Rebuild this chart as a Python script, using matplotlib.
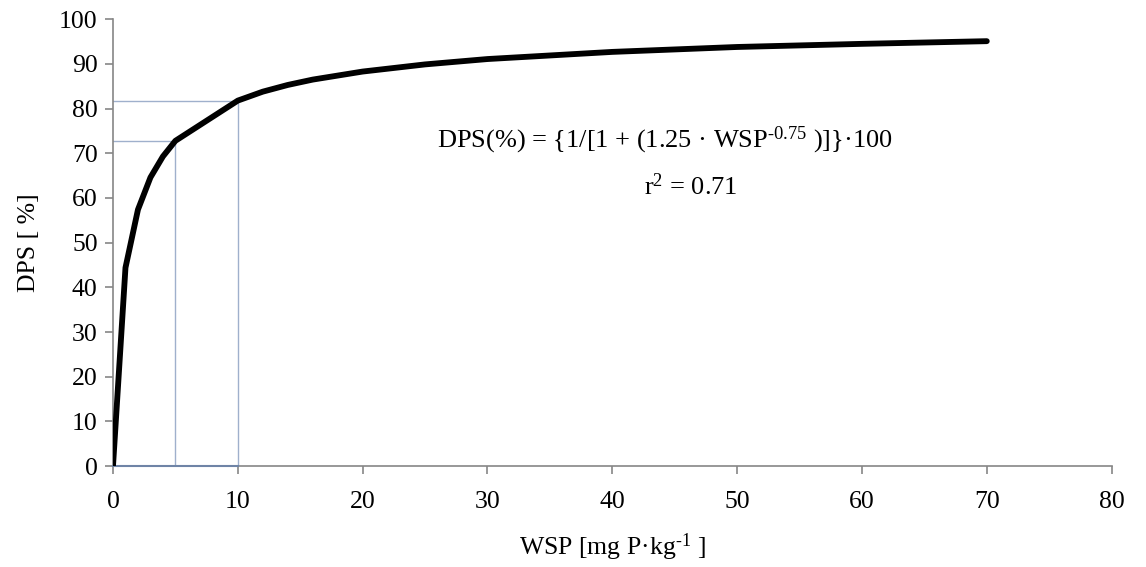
import matplotlib.pyplot as plt

plt.rcParams['font.family'] = ['Liberation Serif', 'DejaVu Serif']
plt.rcParams['mathtext.fontset'] = 'custom'
plt.rcParams['mathtext.rm'] = 'Liberation Serif'
plt.rcParams['mathtext.it'] = 'Liberation Serif:italic'

# values
wsp = [0, 1, 2, 3, 4, 5, 10, 12, 14, 16, 20, 25, 30, 40, 50, 60, 70]
dps = [0, 44.4, 57.4, 64.6, 69.3, 72.8, 81.8, 83.8, 85.3, 86.5,
       88.3, 89.9, 91.1, 92.7, 93.8, 94.5, 95.1]

# guide points marked on the chart
guide_x = [5, 10]
guide_y = [72.8, 81.8]

fig = plt.figure(figsize=(11.46, 5.67), dpi=100)
ax = fig.add_axes([0.0986, 0.178, 0.8714, 0.788])

guide_col = '#9fb0cc'
for gx, gy in zip(guide_x, guide_y):
    ax.plot([gx, gx], [0, gy], color=guide_col, lw=1.0, zorder=2)
    ax.plot([0, gx], [gy, gy], color=guide_col, lw=1.0, zorder=2)
ax.plot([0, max(guide_x)], [0, 0], color='#6f84a6', lw=1.5, zorder=3, clip_on=False)

ax.plot(wsp, dps, color='black', lw=4.2, solid_capstyle='round',
        solid_joinstyle='round', zorder=4)

ax.set_xlim(0, 80)
ax.set_ylim(0, 100)
ax.set_xticks(range(0, 81, 10))
ax.set_yticks(range(0, 101, 10))
for s in ['top', 'right']:
    ax.spines[s].set_visible(False)
for s in ['left', 'bottom']:
    ax.spines[s].set_color('#868686')
    ax.spines[s].set_linewidth(1.2)
ax.tick_params(direction='out', length=6, width=1.2, color='#868686',
               labelsize=18.5, pad=5)
ax.tick_params(axis='x', pad=12)

ax.set_xlabel('WSP [mg P·kg$^{\u20101}$ ]', fontsize=18.5, labelpad=13)
ax.set_ylabel('DPS [ %]', fontsize=18.5, labelpad=14)

ax.text(44.2, 73, 'DPS(%) = {1/[1 + (1.25 · WSP$^{\u20100.75}$ )]}·100',
        fontsize=19, ha='center', va='center')
ax.text(46.3, 62.5, 'r$^{2}$ = 0.71', fontsize=19, ha='center', va='center')

fig.savefig('out.png', dpi=100)
